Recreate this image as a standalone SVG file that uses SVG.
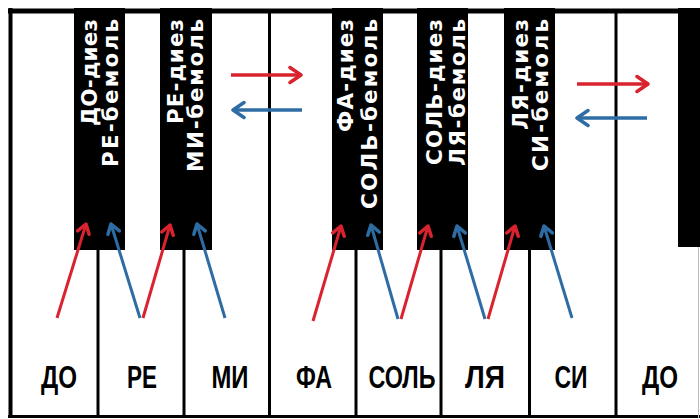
<svg xmlns="http://www.w3.org/2000/svg" width="700" height="419" viewBox="0 0 700 419">
<defs>
<style>
.frame{stroke:#000;fill:none}
.div{stroke:#000;stroke-width:3}
.bk{fill:#000}
.bt{font-family:"DejaVu Sans","Liberation Sans",sans-serif;font-weight:bold;font-size:21.5px;fill:#fff;text-anchor:end}
.wt{font-family:"Liberation Sans",Arial,sans-serif;font-weight:bold;font-size:32px;fill:#000;text-anchor:middle}
.red{stroke:#d9232e;stroke-width:3;fill:none;marker-end:url(#hr)}
.blue{stroke:#2e6da4;stroke-width:3;fill:none;marker-end:url(#hb)}
.hred{stroke:#d9232e;stroke-width:3.5;fill:none;marker-end:url(#hr2)}
.hblue{stroke:#2e6da4;stroke-width:3.5;fill:none;marker-end:url(#hb2)}
</style>
<marker id="hr" markerUnits="userSpaceOnUse" viewBox="-12 -8 14 16" refX="0" refY="0" markerWidth="14" markerHeight="16" orient="auto"><path d="M-9,-6 L0,0 L-9,6" fill="none" stroke="#d9232e" stroke-width="3.5" stroke-linecap="round" stroke-linejoin="round"/></marker>
<marker id="hb" markerUnits="userSpaceOnUse" viewBox="-12 -8 14 16" refX="0" refY="0" markerWidth="14" markerHeight="16" orient="auto"><path d="M-9,-6 L0,0 L-9,6" fill="none" stroke="#2e6da4" stroke-width="3.5" stroke-linecap="round" stroke-linejoin="round"/></marker>
<marker id="hr2" markerUnits="userSpaceOnUse" viewBox="-14 -10 16 20" refX="0" refY="0" markerWidth="16" markerHeight="20" orient="auto"><path d="M-11,-7.5 L0,0 L-11,7.5" fill="none" stroke="#d9232e" stroke-width="3.5" stroke-linecap="round" stroke-linejoin="round"/></marker>
<marker id="hb2" markerUnits="userSpaceOnUse" viewBox="-14 -10 16 20" refX="0" refY="0" markerWidth="16" markerHeight="20" orient="auto"><path d="M-11,-7.5 L0,0 L-11,7.5" fill="none" stroke="#2e6da4" stroke-width="3.5" stroke-linecap="round" stroke-linejoin="round"/></marker>
</defs>
<rect x="0" y="0" width="700" height="419" fill="#fff"/>
<g id="frame">
<line class="frame" x1="10.5" y1="8" x2="10.5" y2="418" stroke-width="4"/>
<line class="frame" x1="8" y1="11" x2="700" y2="11" stroke-width="5"/>
<line class="frame" x1="8" y1="416.5" x2="700" y2="416.5" stroke-width="3"/>
<line x1="698.5" y1="12" x2="698.5" y2="418" stroke="#bbb" stroke-width="1"/>
</g>
<g id="white-keys">
<g id="key-do"><text class="wt" x="59" y="388" textLength="36" lengthAdjust="spacingAndGlyphs">ДО</text></g>
<line class="div" x1="98" y1="248" x2="98" y2="417"/>
<g id="key-re"><text class="wt" x="142" y="388" textLength="30" lengthAdjust="spacingAndGlyphs">РЕ</text></g>
<line class="div" x1="184" y1="248" x2="184" y2="417"/>
<g id="key-mi"><text class="wt" x="230" y="388" textLength="37" lengthAdjust="spacingAndGlyphs">МИ</text></g>
<line class="div" x1="269.5" y1="10" x2="269.5" y2="417"/>
<g id="key-fa"><text class="wt" x="314" y="388" textLength="36" lengthAdjust="spacingAndGlyphs">ФА</text></g>
<line class="div" x1="356" y1="248" x2="356" y2="417"/>
<g id="key-sol"><text class="wt" x="402" y="388" textLength="67" lengthAdjust="spacingAndGlyphs">СОЛЬ</text></g>
<line class="div" x1="441" y1="248" x2="441" y2="417"/>
<g id="key-lya"><text class="wt" x="485" y="388" textLength="40" lengthAdjust="spacingAndGlyphs">ЛЯ</text></g>
<line class="div" x1="529.5" y1="248" x2="529.5" y2="417"/>
<g id="key-si"><text class="wt" x="571" y="388" textLength="33" lengthAdjust="spacingAndGlyphs">СИ</text></g>
<line class="div" x1="616" y1="10" x2="616" y2="417"/>
<g id="key-do2"><text class="wt" x="660" y="388" textLength="36" lengthAdjust="spacingAndGlyphs">ДО</text></g>
</g>
<g id="black-keys">
<g id="bk-do-diez"><rect class="bk" x="74" y="8" width="51" height="242"/>
<text class="bt" transform="translate(97,19) rotate(-90)" textLength="107" lengthAdjust="spacing">ДО-диез</text>
<text class="bt" transform="translate(118,19) rotate(-90)" textLength="148" lengthAdjust="spacing">РЕ-бемоль</text></g>
<g id="bk-re-diez"><rect class="bk" x="160" y="8" width="52" height="242"/>
<text class="bt" transform="translate(183,19) rotate(-90)" textLength="105" lengthAdjust="spacing">РЕ-диез</text>
<text class="bt" transform="translate(203,19) rotate(-90)" textLength="153" lengthAdjust="spacing">МИ-бемоль</text></g>
<g id="bk-fa-diez"><rect class="bk" x="332" y="8" width="51" height="242"/>
<text class="bt" transform="translate(353,19) rotate(-90)" textLength="113" lengthAdjust="spacing">ФА-диез</text>
<text class="bt" transform="translate(377,19) rotate(-90)" textLength="190" lengthAdjust="spacing">СОЛЬ-бемоль</text></g>
<g id="bk-sol-diez"><rect class="bk" x="417" y="8" width="51" height="242"/>
<text class="bt" transform="translate(442,19) rotate(-90)" textLength="146" lengthAdjust="spacing">СОЛЬ-диез</text>
<text class="bt" transform="translate(465,19) rotate(-90)" textLength="147" lengthAdjust="spacing">ЛЯ-бемоль</text></g>
<g id="bk-lya-diez"><rect class="bk" x="504" y="8" width="51" height="242"/>
<text class="bt" transform="translate(528,19) rotate(-90)" textLength="111" lengthAdjust="spacing">ЛЯ-диез</text>
<text class="bt" transform="translate(548,19) rotate(-90)" textLength="152" lengthAdjust="spacing">СИ-бемоль</text></g>
<g id="bk-do-diez2"><rect class="bk" x="678" y="8" width="22" height="239"/></g>
</g>
<g id="connectors">
<line class="red" x1="57" y1="318" x2="86" y2="224"/>
<line class="blue" x1="140" y1="318" x2="111" y2="224"/>
<line class="red" x1="143" y1="318" x2="170" y2="225"/>
<line class="blue" x1="225" y1="318" x2="197" y2="224"/>
<line class="red" x1="313" y1="321" x2="341" y2="226"/>
<line class="blue" x1="398" y1="319" x2="371" y2="225"/>
<line class="red" x1="401" y1="319" x2="428" y2="226"/>
<line class="blue" x1="485" y1="319" x2="457" y2="226"/>
<line class="red" x1="488" y1="319" x2="515" y2="226"/>
<line class="blue" x1="572" y1="318" x2="544" y2="226"/>
<line class="hred" x1="231" y1="75" x2="301" y2="75"/>
<line class="hblue" x1="302" y1="110" x2="233" y2="110"/>
<line class="hred" x1="577" y1="84" x2="648" y2="84"/>
<line class="hblue" x1="647" y1="118" x2="577" y2="118"/>
</g>
</svg>
